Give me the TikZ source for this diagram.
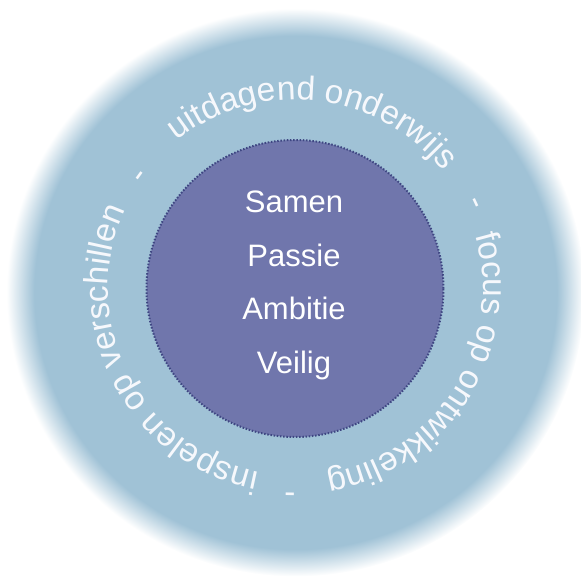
\documentclass[tikz,border=0pt]{standalone}
\usepackage{fontspec}
\setmainfont{Liberation Sans}
\usetikzlibrary{decorations.text,calc}

\definecolor{ringblue}{RGB}{160,194,214}
\definecolor{corepurple}{RGB}{112,118,172}
\definecolor{coreedge}{RGB}{62,70,130}
\definecolor{lettering}{RGB}{246,248,252}

% soft edge of the outer disc
\pgfdeclareradialshading{ringhalo}{\pgfpoint{0bp}{0bp}}{color(0bp)=(ringblue); color(22.6bp)=(ringblue); color(25bp)=(white); color(50bp)=(white)}

\newcommand{\ringfont}{\fontsize{33.5}{36}\selectfont}
\newcommand{\corefont}{\fontsize{31}{34}\selectfont}

\tikzset{
  ringtext/.style={decorate,decoration={text along path,text align=center,text color=lettering,text={|\ringfont|#1}}},
  ringdash/.style={text=lettering,font=\ringfont,inner sep=0pt},
  coreword/.style={text=white,font=\corefont,anchor=base,inner sep=0pt}
}

\begin{document}
\begin{tikzpicture}[x=1pt,y=1pt]
 \useasboundingbox (0,0) rectangle (581,576);

 \coordinate (mid) at (295,287.5);
 \coordinate (halomid) at (295.5,283.5);

 \shade[shading=ringhalo] (halomid) ellipse [x radius=289,y radius=284];

 \node[circle,fill=corepurple,draw=coreedge,line width=2pt,dash pattern=on 1.5pt off 1.7pt,minimum size=297pt,inner sep=0pt] (core) at (mid) {};

 \node[coreword] (samen) at (294,363) {Samen};
 \node[coreword] (passie) at (294,309.5) {Passie};
 \node[coreword] (ambitie) at (294,256) {Ambitie};
 \node[coreword] (veilig) at (294,202.5) {Veilig};

 % the three phrases run clockwise round the core
 \path[ringtext={uitdagend onderwijs}] (mid) ++(153.5:189) arc[start angle=153.5,end angle=13.5,radius=189];
 \path[ringtext={focus op ontwikkeling}] (mid) ++(38:188) arc[start angle=38,end angle=-102,radius=188];
 \path[ringtext={inspelen op verschillen}] (mid) ++(277:187) arc[start angle=277,end angle=137,radius=187];

 \node[ringdash,rotate=-65] (dash1) at ($(mid)+(25.3:196)$) {-};
 \node[ringdash,rotate=-181] (dash2) at ($(mid)+(-91.4:202)$) {-};
 \node[ringdash,rotate=54] (dash3) at ($(mid)+(144:188)$) {-};
\end{tikzpicture}
\end{document}
